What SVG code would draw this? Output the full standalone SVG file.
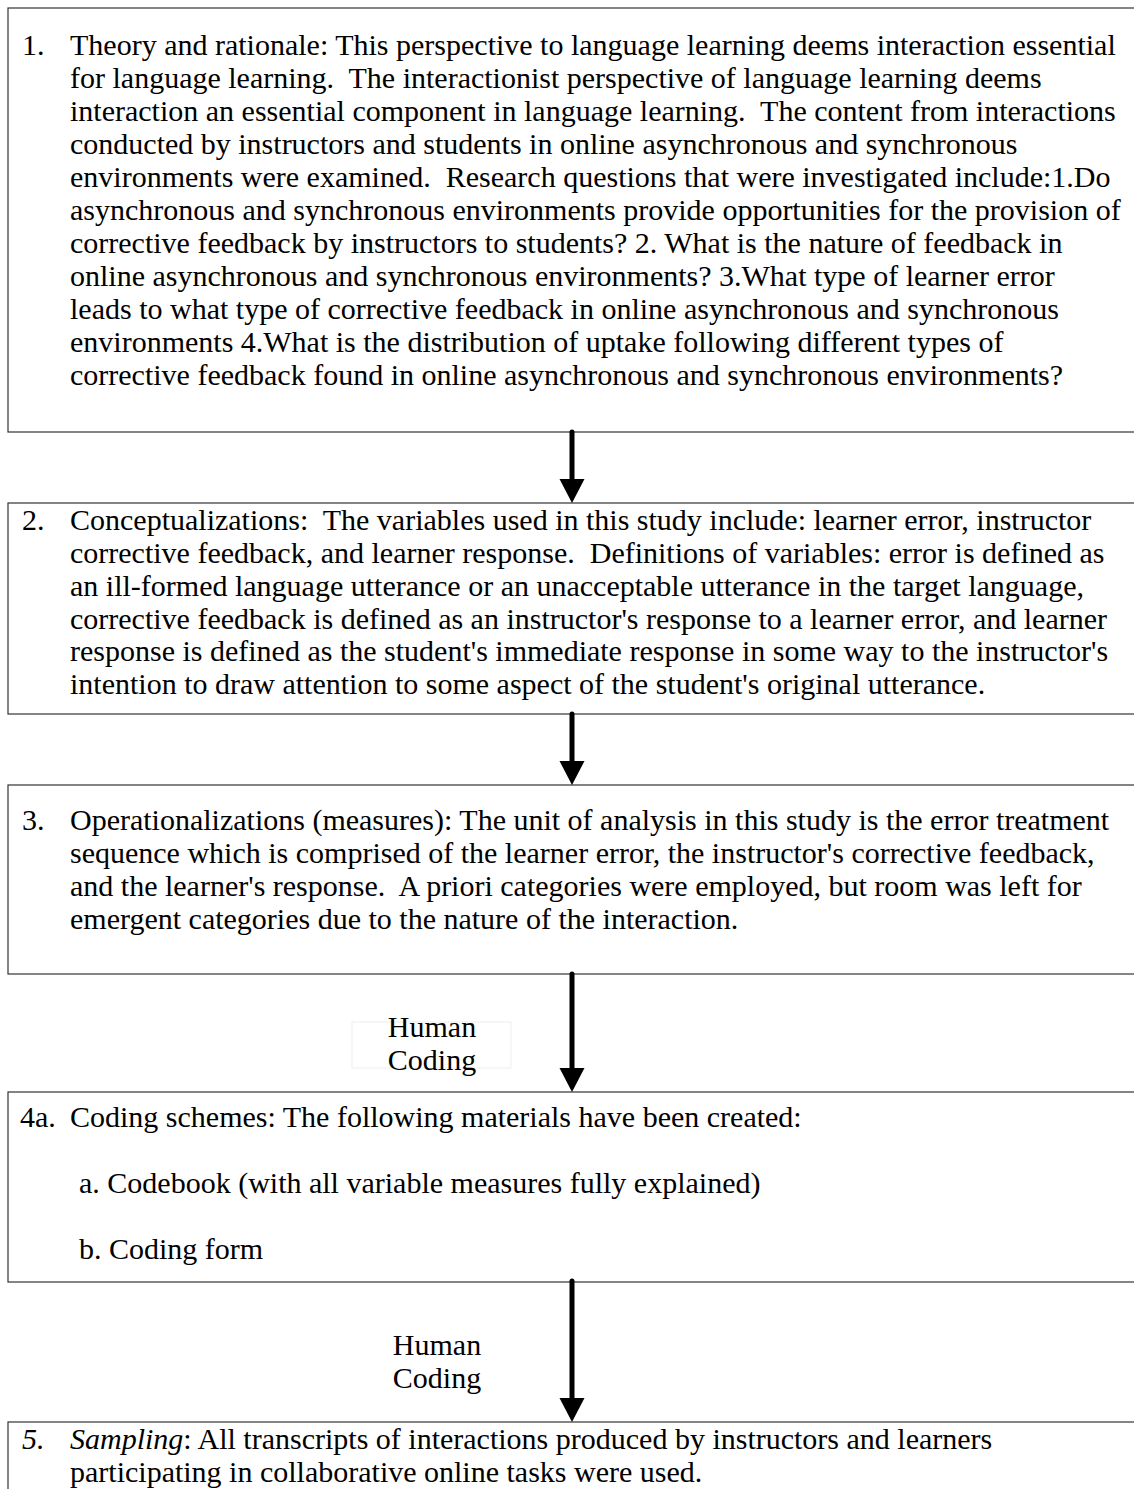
<svg xmlns="http://www.w3.org/2000/svg" width="1134" height="1489" viewBox="0 0 1134 1489">
<defs>
<style>
text{font-family:"Liberation Serif","Times New Roman",serif;font-size:30px;fill:#000;white-space:pre}
.box{fill:#fff;stroke:#333;stroke-width:1.2}
.shaft{stroke:#000;stroke-width:5;stroke-linecap:round;fill:none}
.head{fill:#000}
.it{font-style:italic}
</style>
</defs>
<rect width="1134" height="1489" fill="#fff"/>

<g id="node1">
<rect class="box" x="8" y="8" width="1140" height="424"/>
<text x="22" y="55">1.</text>
<text x="70" y="55">Theory and rationale: This perspective to language learning deems interaction essential</text>
<text x="70" y="88">for language learning.  The interactionist perspective of language learning deems</text>
<text x="70" y="121">interaction an essential component in language learning.  The content from interactions</text>
<text x="70" y="154">conducted by instructors and students in online asynchronous and synchronous</text>
<text x="70" y="187">environments were examined.  Research questions that were investigated include:1.Do</text>
<text x="70" y="220">asynchronous and synchronous environments provide opportunities for the provision of</text>
<text x="70" y="253">corrective feedback by instructors to students? 2. What is the nature of feedback in</text>
<text x="70" y="286">online asynchronous and synchronous environments? 3.What type of learner error</text>
<text x="70" y="319">leads to what type of corrective feedback in online asynchronous and synchronous</text>
<text x="70" y="352">environments 4.What is the distribution of uptake following different types of</text>
<text x="70" y="385">corrective feedback found in online asynchronous and synchronous environments?</text>
</g>

<g id="node2">
<rect class="box" x="8" y="503" width="1140" height="211"/>
<text x="22" y="530">2.</text>
<text x="70" y="530">Conceptualizations:  The variables used in this study include: learner error, instructor</text>
<text x="70" y="563">corrective feedback, and learner response.  Definitions of variables: error is defined as</text>
<text x="70" y="596">an ill-formed language utterance or an unacceptable utterance in the target language,</text>
<text x="70" y="629">corrective feedback is defined as an instructor's response to a learner error, and learner</text>
<text x="70" y="661">response is defined as the student's immediate response in some way to the instructor's</text>
<text x="70" y="694">intention to draw attention to some aspect of the student's original utterance.</text>
</g>

<g id="node3">
<rect class="box" x="8" y="785" width="1140" height="189"/>
<text x="22" y="830">3.</text>
<text x="70" y="830">Operationalizations (measures): The unit of analysis in this study is the error treatment</text>
<text x="70" y="863">sequence which is comprised of the learner error, the instructor's corrective feedback,</text>
<text x="70" y="896">and the learner's response.  A priori categories were employed, but room was left for</text>
<text x="70" y="929">emergent categories due to the nature of the interaction.</text>
</g>

<g id="node4">
<rect class="box" x="8" y="1092" width="1140" height="190"/>
<text x="20" y="1127">4a.</text>
<text x="70" y="1127">Coding schemes: The following materials have been created:</text>
<text x="79" y="1193">a. Codebook (with all variable measures fully explained)</text>
<text x="79" y="1259">b. Coding form</text>
</g>

<g id="node5">
<rect class="box" x="8" y="1422" width="1140" height="80"/>
<text x="22" y="1449" class="it">5.</text>
<text x="70" y="1449"><tspan class="it">Sampling</tspan>: All transcripts of interactions produced by instructors and learners</text>
<text x="70" y="1482">participating in collaborative online tasks were used.</text>
</g>

<g id="label1">
<rect x="352" y="1022" width="159" height="46" fill="none" stroke="#eeeeee" stroke-width="1"/>
<text x="432" y="1037" text-anchor="middle">Human</text>
<text x="432" y="1070" text-anchor="middle">Coding</text>
</g>

<g id="label2">
<text x="437" y="1355" text-anchor="middle">Human</text>
<text x="437" y="1388" text-anchor="middle">Coding</text>
</g>

<g id="connectors">
<line class="shaft" x1="572" y1="432" x2="572" y2="482"/>
<path class="head" d="M559.5,479 L584.5,479 L572,503 Z"/>
<line class="shaft" x1="572" y1="714" x2="572" y2="764"/>
<path class="head" d="M559.5,761 L584.5,761 L572,785 Z"/>
<line class="shaft" x1="572" y1="974" x2="572" y2="1071"/>
<path class="head" d="M559.5,1068 L584.5,1068 L572,1092 Z"/>
<line class="shaft" x1="572" y1="1281" x2="572" y2="1401"/>
<path class="head" d="M559.5,1398 L584.5,1398 L572,1422 Z"/>
</g>
</svg>
